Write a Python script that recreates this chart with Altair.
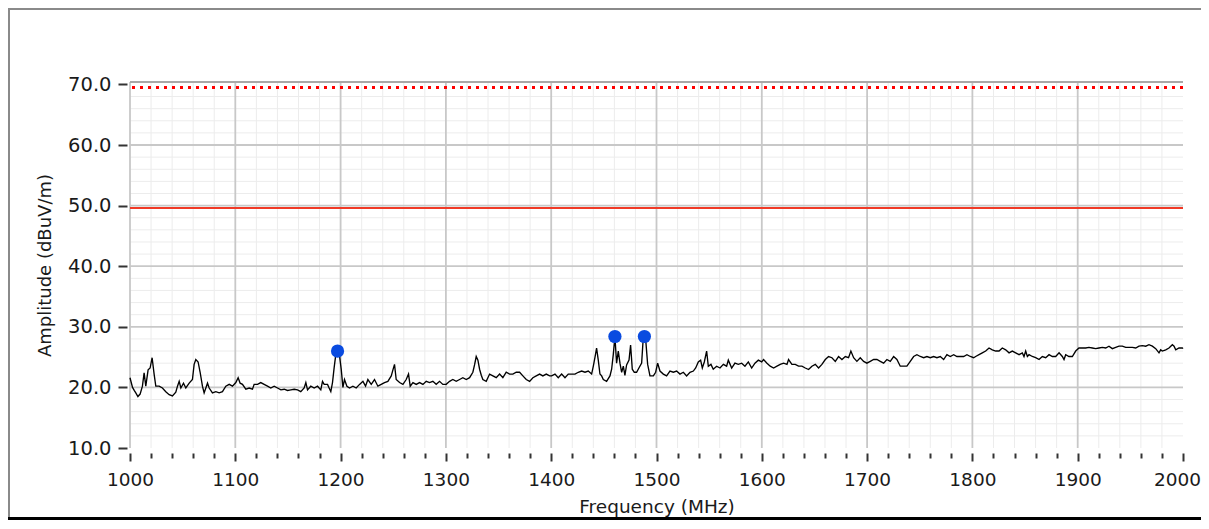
import altair as alt
import pandas as pd

# ---------------- data ----------------
freq = [
    1000, 1002.4, 1004, 1005.5, 1007.5, 1009.6, 1011.8, 1013.4, 1015, 1017.2, 1019.1, 1021, 1022.9, 1024.5,
    1027.7, 1030.8, 1034, 1037.2, 1040.3, 1043.5, 1045.1, 1046.7, 1048.3, 1050.8, 1053, 1056.2, 1059.3,
    1060.9, 1062.5, 1064.7, 1066.6, 1068.8, 1070.4, 1073.6, 1075.2, 1078.3, 1081.5, 1084.7, 1087.8, 1091,
    1094.2, 1097.3, 1100.5, 1102.7, 1104.6, 1106.8, 1110, 1113.2, 1116.3, 1117.9, 1121.1, 1124.2, 1127.4,
    1130.6, 1133.7, 1136.9, 1140.1, 1143.3, 1146.4, 1149.6, 1152.8, 1155.9, 1159.1, 1162.2, 1165.4, 1167,
    1168.6, 1171.7, 1174.9, 1178.1, 1181.2, 1182.8, 1184.4, 1187.6, 1189.1, 1190.7, 1192.3, 1193.9, 1195.5,
    1197.1,
    1199, 1200.6, 1202.2, 1203.7, 1206, 1208.5, 1211.7, 1214.8, 1218, 1221.2, 1223.7, 1225.9, 1229.1,
    1232.2, 1235.4, 1238.6, 1241.7, 1244.9, 1248.1, 1249.7, 1251.2, 1252.8, 1256, 1259.2, 1262.3, 1264.5,
    1266.1, 1268.7, 1271.8, 1275, 1278.2, 1281.3, 1284.5, 1287.6, 1290.8, 1294, 1297.1, 1300.3, 1303.5,
    1306.6, 1309.8, 1313, 1316.1, 1319.3, 1322.5, 1325.6, 1327.2, 1328.8, 1330.4, 1332, 1333.6, 1335.1,
    1338.3, 1341.5, 1344.6, 1347.8, 1351, 1354.1, 1357.3, 1360.5, 1363.6, 1366.8, 1370, 1373.1, 1376.3,
    1379.5, 1382.6, 1385.8, 1389, 1392.1, 1395.3, 1398.5,
    1400.4, 1403.6, 1406.7, 1409.9, 1413.1, 1416.2, 1419.4, 1422.6, 1425.7, 1428.9, 1432.1, 1435.2, 1438.4,
    1440, 1441.6, 1443.1, 1444.7, 1446.3, 1447.9, 1449.5, 1452.6, 1455.8, 1457.4, 1459, 1460.5, 1462.1,
    1463.7, 1465.3, 1466.9, 1468.5, 1470, 1471.6, 1473.9, 1475.4, 1477, 1478.9, 1481.1, 1483.3, 1485.9,
    1487.5, 1489.5, 1491.6, 1493.8, 1497, 1499.2, 1501.1, 1503.3, 1506.5, 1509.6, 1512.8, 1516, 1519.1,
    1522.3, 1525.5, 1528.6, 1531.8, 1535, 1537.2, 1539.7, 1541.9, 1543.5, 1545.4, 1547.6, 1549.2, 1551.7,
    1553.9, 1557.1, 1560.3, 1563.5, 1566.6, 1568.2, 1571.4, 1574.5, 1577.7, 1580.9, 1584, 1587.2, 1590.4,
    1593.5, 1596.7, 1599.9,
    1601.7, 1604.9, 1608, 1611.2, 1614.4, 1617.5, 1620.7, 1623.9, 1625.4, 1628.6, 1631.8, 1634.9, 1638.1,
    1641.3, 1644.4, 1647.6, 1650.8, 1653.9, 1657.1, 1660.3, 1663.4, 1666.6, 1669.8, 1672.9, 1676.1, 1679.3,
    1682.4, 1684.6, 1687.2, 1690.3, 1693.5, 1696.7, 1699.8, 1703, 1706.2, 1709.3, 1712.5, 1715.7, 1718.8,
    1722, 1725.2, 1728.3, 1731.5, 1734.7, 1737.8, 1741, 1744.2, 1747.3, 1750.5, 1753.7, 1756.8, 1760,
    1763.2, 1766.3, 1769.5, 1772.7, 1775.8, 1779, 1782.2, 1785.3, 1788.5, 1791.7, 1794.8, 1798, 1801.2,
    1803.1, 1806.3, 1809.4, 1812.6, 1815.8, 1818.9, 1822.1, 1825.3, 1828.4, 1831.6, 1834.8, 1837.9, 1841.1,
    1844.3, 1847.4, 1849, 1850.6, 1852.2, 1853.8, 1856.9, 1860.1, 1863.3, 1866.4, 1869.6, 1872.8, 1875.9,
    1879.1, 1882.3, 1885.4, 1887, 1888.6, 1891.7, 1894.9, 1898.1, 1901.2, 1904.4, 1907.6, 1910.7, 1913.9,
    1917.1, 1920.2, 1923.4, 1926.6, 1929.7, 1932.9, 1936.1, 1939.2, 1942.4, 1945.6, 1948.7, 1951.9, 1955.1,
    1958.2, 1961.4, 1964.6, 1967.7, 1970.9, 1974.1, 1977.2, 1978.8, 1980.4, 1983.6, 1986.7, 1989.9, 1991.5,
    1993.1, 1996.2, 1999.4, 2000,
]
amp = [
    21.6, 20.0, 19.5, 19.1, 18.5, 18.9, 20.2, 22.4, 20.2, 22.9, 23.2, 24.9, 22.2, 20.2,
    20.2, 19.9, 19.3, 18.8, 18.6, 19.2, 20.2, 21.0, 19.9, 20.7, 19.9, 20.7, 21.3,
    23.8, 24.6, 24.2, 22.5, 20.2, 19.1, 20.7, 19.9, 19.1, 19.3, 19.1, 19.3, 20.2,
    20.5, 20.2, 20.8, 21.6, 20.7, 20.5, 19.7, 19.9, 19.7, 20.5, 20.5, 20.8, 20.5,
    20.2, 19.9, 20.2, 19.9, 19.6, 19.7, 19.5, 19.6, 19.7, 19.6, 19.3, 19.9, 20.8,
    19.6, 20.2, 19.9, 20.2, 19.6, 21.0, 20.5, 20.5, 19.9, 19.3, 20.8, 23.3, 25.5,
    26.0,
    25.2, 23.0, 20.0, 21.3, 20.2, 19.9, 20.2, 19.9, 20.5, 21.0, 20.2, 21.3, 20.5,
    21.3, 20.2, 20.5, 20.8, 21.0, 21.9, 22.9, 23.8, 21.3, 20.8, 20.5, 21.3, 22.2,
    20.2, 20.8, 20.5, 20.8, 20.5, 21.0, 20.8, 21.0, 20.5, 21.0, 20.5, 20.5, 21.0,
    21.3, 21.0, 21.3, 21.6, 21.3, 21.6, 22.5, 23.7, 25.1, 24.5, 23.0, 22.0, 21.3,
    21.0, 22.2, 21.9, 21.6, 22.2, 21.6, 22.5, 22.2, 22.2, 22.5, 22.5, 21.9, 21.3,
    21.0, 21.6, 21.9, 22.2, 21.9, 22.2, 21.9,
    21.9, 22.2, 21.6, 22.2, 21.6, 22.2, 22.2, 22.2, 22.5, 22.7, 22.5, 22.7, 22.2,
    23.5, 25.0, 26.5, 24.5, 22.2, 21.9, 21.3, 21.0, 21.9, 23.0, 25.5, 28.4, 24.0,
    26.0, 24.0, 22.5, 23.5, 22.0, 23.7, 24.5, 27.0, 23.0, 22.5, 22.5, 23.2, 24.0,
    28.4, 28.4, 23.8, 21.9, 21.9, 22.5, 24.0, 22.7, 22.2, 21.9, 22.7, 22.5, 22.7,
    22.2, 22.5, 21.9, 22.5, 22.7, 23.2, 24.2, 24.5, 23.2, 24.2, 26.0, 23.5, 23.8,
    23.0, 23.5, 23.2, 23.8, 23.5, 24.5, 23.2, 24.0, 23.8, 24.0, 23.5, 24.2, 23.2,
    24.0, 24.5, 24.2,
    24.6, 24.0, 23.5, 23.2, 23.5, 23.8, 24.0, 23.8, 24.6, 23.8, 23.8, 23.5, 23.5,
    23.2, 22.95, 23.5, 23.8, 23.2, 23.8, 24.6, 25.1, 24.9, 24.3, 25.1, 24.6, 25.1,
    24.9, 26.0, 24.9, 24.3, 24.9, 24.3, 24.0, 24.3, 24.6, 24.6, 24.3, 24.0, 24.6,
    24.3, 25.1, 24.6, 23.5, 23.5, 23.5, 24.3, 25.1, 25.4, 25.1, 24.9, 25.1, 24.9,
    25.1, 24.9, 25.1, 24.6, 25.4, 25.1, 25.4, 25.1, 25.1, 25.1, 25.4, 25.1, 24.9,
    25.1, 25.4, 25.7, 26.0, 26.5, 26.2, 26.0, 26.0, 26.5, 26.2, 25.7, 26.0, 25.7,
    25.4, 25.7, 25.1, 26.0, 25.1, 25.4, 25.1, 24.9, 24.6, 25.1, 24.9, 25.4, 25.1,
    25.1, 25.7, 25.1, 24.6, 25.4, 25.1, 25.1, 26.0, 26.5, 26.5, 26.5, 26.6, 26.5,
    26.4, 26.5, 26.6, 26.5, 26.8, 26.4, 26.6, 26.8, 26.8, 26.6, 26.6, 26.6, 26.5,
    26.8, 26.9, 26.8, 27.05, 26.8, 26.4, 25.7, 26.2, 26.0, 26.2, 26.5, 27.05, 26.8,
    26.2, 26.5, 26.5, 26.4,
]
peak_freq = [1197.1, 1460.5, 1488.5]
peak_amp = [26.0, 28.4, 28.4]
limit_dotted = [69.5]
limit_solid = [49.62]
x_major = [1000, 1100, 1200, 1300, 1400, 1500, 1600, 1700, 1800, 1900]
x_minor = [v for v in range(1020, 2000, 20) if v % 100 != 0]
y_major = [20, 30, 40, 50, 60]
y_minor = [v for v in range(12, 70, 2) if v % 10 != 0]
x_ticks = list(range(1000, 2001, 20))
y_ticks = [10, 20, 30, 40, 50, 60, 70]

# ---------------- layout ----------------
W, H = 1053, 366
PAD = {"left": 122, "top": 74, "right": 18, "bottom": 72}
FONT = "DejaVu Sans"
TXT = "#1a1a1a"

xs = alt.Scale(domain=[1000, 2000], nice=False, zero=False)
ys = alt.Scale(domain=[10, 70.4], nice=False, zero=False)

x_axis = alt.Axis(
    values=x_ticks, format="d",
    labelExpr="datum.value % 100 === 0 ? datum.label : ''",
    grid=False, domain=False, offset=5,
    tickSize={"condition": {"test": "datum.value % 100 === 0", "value": 8}, "value": 5},
    tickWidth=2, tickColor="#333333",
    labelFont=FONT, labelFontSize=18.5, labelColor=TXT, labelPadding=9,
    labelOffset={"condition": {"test": "datum.value === 2000", "value": -6}, "value": 0},
    labelFlush=False, labelOverlap=False,
    titleFont=FONT, titleFontSize=18.5, titleFontWeight="normal", titleColor=TXT,
    titlePadding=9,
)
y_axis = alt.Axis(
    values=y_ticks, format=".1f",
    grid=False, domain=False, offset=3, tickSize=9, tickWidth=2, tickColor="#333333",
    labelFont=FONT, labelFontSize=19.5, labelColor=TXT, labelPadding=7,
    titleFont=FONT, titleFontSize=18, titleFontWeight="normal", titleColor=TXT,
    titlePadding=13,
)

X = alt.X("f:Q", scale=xs, axis=x_axis, title="Frequency (MHz)")
Y = alt.Y("a:Q", scale=ys, axis=y_axis, title="Amplitude (dBuV/m)")

trace_df = pd.DataFrame({"f": freq, "a": amp})
peak_df = pd.DataFrame({"f": peak_freq, "a": peak_amp})

minor_x = alt.Chart(pd.DataFrame({"f": x_minor})).mark_rule(
    color="#ececec", strokeWidth=1).encode(x=X)
minor_y = alt.Chart(pd.DataFrame({"a": y_minor})).mark_rule(
    color="#ececec", strokeWidth=1).encode(y=Y)
major_x = alt.Chart(pd.DataFrame({"f": x_major})).mark_rule(
    color="#c8c8c8", strokeWidth=1.8).encode(x=X)
major_y = alt.Chart(pd.DataFrame({"a": y_major})).mark_rule(
    color="#c8c8c8", strokeWidth=1.8).encode(y=Y)
top_border = alt.Chart(pd.DataFrame({"f": [1000]})).mark_rule(
    color="#a8a8a8", strokeWidth=1.8).encode(
    x=alt.value(0), x2=alt.value(W), y=alt.value(0))

dotted = alt.Chart(pd.DataFrame({"a": limit_dotted})).mark_rule(
    color="#ff0000", strokeWidth=3, strokeDash=[3, 5]).encode(y=Y)
solid = alt.Chart(pd.DataFrame({"a": limit_solid})).mark_rule(
    color="#f03a26", strokeWidth=2).encode(y=Y)

trace = alt.Chart(trace_df).mark_line(color="black", strokeWidth=1.35).encode(x=X, y=Y)
peaks = alt.Chart(peak_df).mark_circle(size=175, color="#0a4be0", opacity=1).encode(x=X, y=Y)

# outer frame of the picture
frame_top = alt.Chart(pd.DataFrame({"f": [1000]})).mark_rule(
    color="#8a8a8a", strokeWidth=2).encode(
    x=alt.value(-PAD["left"]), x2=alt.value(W + PAD["right"]), y=alt.value(-PAD["top"] + 1))
frame_left = alt.Chart(pd.DataFrame({"f": [1000]})).mark_rule(
    color="#8a8a8a", strokeWidth=2).encode(
    x=alt.value(-PAD["left"] + 1), y=alt.value(-PAD["top"]), y2=alt.value(H + PAD["bottom"]))
frame_bottom = alt.Chart(pd.DataFrame({"f": [1000]})).mark_rule(
    color="#000000", strokeWidth=3).encode(
    x=alt.value(-PAD["left"]), x2=alt.value(W + PAD["right"]), y=alt.value(H + PAD["bottom"] - 1.5))

chart = alt.layer(
    minor_x, minor_y, major_x, major_y, top_border,
    dotted, solid, trace, peaks,
    frame_top, frame_left, frame_bottom,
).properties(
    width=W, height=H,
    autosize=alt.AutoSizeParams(type="none"),
    padding=PAD,
    background="white",
).configure_view(stroke=None)

chart.save("out.html", embed_options={"renderer": "svg", "actions": False})
